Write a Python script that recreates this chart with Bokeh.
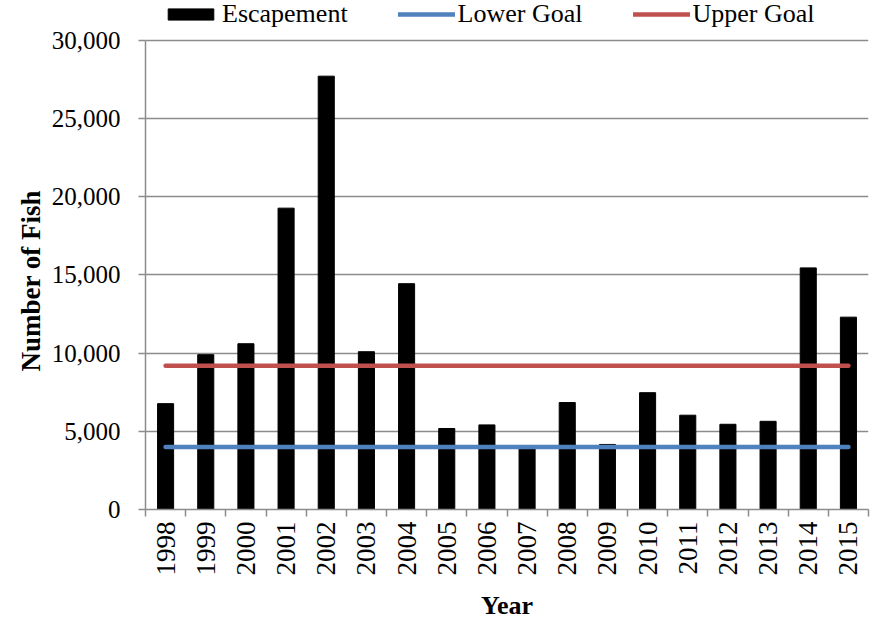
import math
from bokeh.plotting import figure
from bokeh.models import FixedTicker, Legend, LegendItem, Range1d, NumeralTickFormatter, Title
from bokeh.embed import file_html
from bokeh.resources import INLINE

years = ["1998", "1999", "2000", "2001", "2002", "2003", "2004", "2005", "2006",
         "2007", "2008", "2009", "2010", "2011", "2012", "2013", "2014", "2015"]
escapement = [6770, 9900, 10600, 19270, 27710, 10090, 14440, 5180, 5410,
              3950, 6840, 4160, 7470, 6030, 5450, 5640, 15450, 12300]
lower_goal = 4000
upper_goal = 9200
y_ticks = [0, 5000, 10000, 15000, 20000, 25000, 30000]

n = len(years)
xs = [i + 0.5 for i in range(n)]
GRAY = "#8c8c8c"
FONT = "Liberation Serif"

# frame spans the whole top of the figure so the legend (drawn inside it) is not clipped;
# the value axis itself is bounded to 0..30,000
p = figure(width=877, height=622, x_range=Range1d(0, n), y_range=Range1d(0, 32548),
           output_backend="svg", toolbar_location=None,
           min_border_left=145, min_border_right=9, min_border_top=0, min_border_bottom=111)
p.outline_line_color = None
p.background_fill_color = "white"
p.border_fill_color = "white"

bars = p.vbar(x=xs, top=escapement, width=0.4, fill_color="black", line_color="black")
low = p.line(x=[xs[0], xs[-1]], y=[lower_goal, lower_goal], line_color="#4F81BD",
             line_width=4.5, line_cap="round")
up = p.line(x=[xs[0], xs[-1]], y=[upper_goal, upper_goal], line_color="#C0504D",
            line_width=4.5, line_cap="round")

# grid
p.xgrid.visible = False
p.ygrid.ticker = FixedTicker(ticks=y_ticks)
p.ygrid.grid_line_color = GRAY
p.ygrid.grid_line_width = 1.5

# y axis
yax = p.yaxis[0]
yax.bounds = (0, 30000)
yax.ticker = FixedTicker(ticks=y_ticks)
yax.formatter = NumeralTickFormatter(format="0,0")
yax.axis_line_color = GRAY
yax.axis_line_width = 1.5
yax.major_tick_line_color = GRAY
yax.major_tick_line_width = 1.5
yax.major_tick_out = 7
yax.major_tick_in = 0
yax.minor_tick_line_color = None
yax.major_label_text_font = FONT
yax.major_label_text_font_size = "25px"
yax.major_label_text_color = "black"
yax.major_label_standoff = 18

ytitle = Title(text="Number of Fish", align="left", offset=138, standoff=6,
               text_font=FONT, text_font_size="27px", text_font_style="bold",
               text_color="black")
p.add_layout(ytitle, "left")

# x axis
xax = p.xaxis[0]
xax.ticker = FixedTicker(ticks=xs, minor_ticks=list(range(n + 1)))
xax.major_label_overrides = {x: y for x, y in zip(xs, years)}
xax.major_label_orientation = math.pi / 2
xax.axis_line_color = GRAY
xax.axis_line_width = 1.5
xax.major_tick_line_color = None
xax.major_tick_out = 7
xax.major_tick_in = 0
xax.minor_tick_line_color = GRAY
xax.minor_tick_line_width = 1.5
xax.minor_tick_out = 7
xax.minor_tick_in = 0
xax.major_label_text_font = FONT
xax.major_label_text_font_size = "27px"
xax.major_label_text_color = "black"
xax.major_label_standoff = 5
xax.axis_label = "Year"
xax.axis_label_text_font = FONT
xax.axis_label_text_font_size = "26px"
xax.axis_label_text_font_style = "bold"
xax.axis_label_text_color = "black"
xax.axis_label_standoff = 12

legend = Legend(items=[LegendItem(label="Escapement", renderers=[bars]),
                       LegendItem(label="Lower Goal", renderers=[low]),
                       LegendItem(label="Upper Goal", renderers=[up])],
                orientation="horizontal", location=(17, 480))
legend.border_line_color = None
legend.background_fill_alpha = 0
legend.padding = 0
legend.margin = 0
legend.spacing = 50
legend.label_standoff = 3
legend.glyph_width = 57
legend.glyph_height = 14
legend.label_text_font = FONT
legend.label_text_font_size = "26px"
legend.label_text_color = "black"
p.add_layout(legend, "center")

open("out.html", "w").write(file_html(p, INLINE))
